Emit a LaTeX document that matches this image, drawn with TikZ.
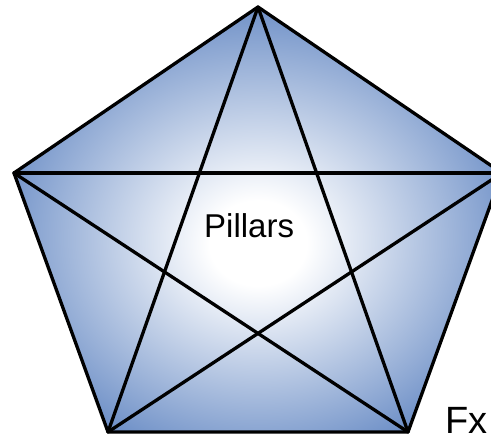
\documentclass[tikz,border=0pt]{standalone}
\usepackage{fontspec}
\setmainfont{Liberation Sans}
\definecolor{pentblue}{RGB}{66,110,182}
\pgfdeclareradialshading{pentshade}{\pgfpoint{0bp}{-3bp}}{color(0bp)=(white); color(5bp)=(white); color(34bp)=(pentblue); color(70bp)=(pentblue)}
\tikzset{
  edge/.style={line width=3.3pt, line join=round, line cap=round, black},
  lbl/.style={inner sep=0pt, font=\fontsize{33}{33}\selectfont},
}
\begin{document}
\begin{tikzpicture}[x=1pt,y=-1pt]
\useasboundingbox (0,0) rectangle (491,435);
\coordinate (T) at (258,7);
\coordinate (L) at (14,173);
\coordinate (R) at (502,173);
\coordinate (BL) at (108,432);
\coordinate (BR) at (408,432);
\shade[shading=pentshade] (T) -- (R) -- (BR) -- (BL) -- (L) -- cycle;
\draw[edge] (T) -- (R) -- (BR) -- (BL) -- (L) -- cycle;
\draw[edge] (T) -- (BL);
\draw[edge] (T) -- (BR);
\draw[edge] (L) -- (R);
\draw[edge] (L) -- (BR);
\draw[edge] (R) -- (BL);
\node[lbl, anchor=base west] (p) at (204,238) {Pillars};
\node[lbl, anchor=base west, font=\fontsize{38}{38}\selectfont] (fx) at (445,434) {Fx};
\end{tikzpicture}
\end{document}
